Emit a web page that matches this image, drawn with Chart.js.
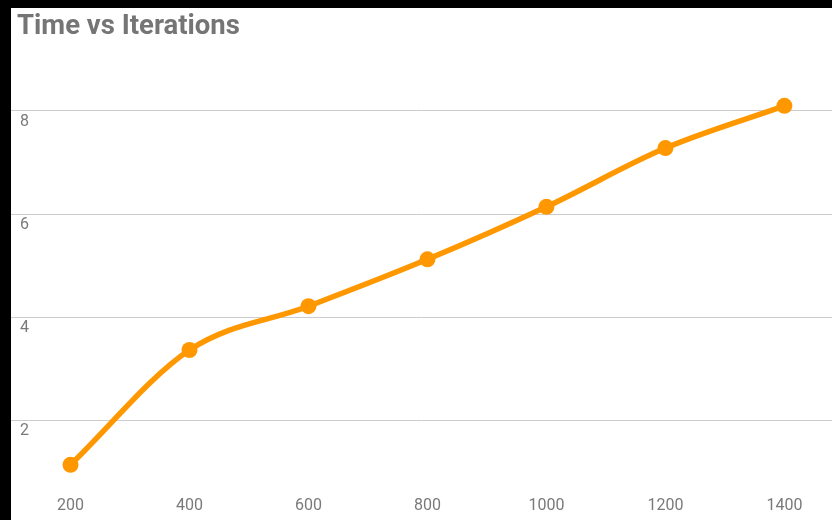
<!DOCTYPE html>
<html>
<head>
<meta charset="utf-8">
<script src="https://cdn.jsdelivr.net/npm/chart.js@4/dist/chart.umd.min.js"></script>
<style>
  html, body { margin: 0; padding: 0; background: #000; width: 832px; height: 520px; overflow: hidden; }
  #wrap { position: absolute; left: 11px; top: 8px; width: 821px; height: 512px; background: #fff; }
  #title {
    position: absolute; left: 17px; top: 11px; margin: 0;
    font-family: Roboto, sans-serif; font-weight: bold; font-size: 27.5px; line-height: 1;
    color: #757575; white-space: nowrap;
  }
</style>
</head>
<body>
<div id="wrap"><canvas id="chart"></canvas></div>
<div id="title">Time vs Iterations</div>
<script>
// Chart data
const iterations = [200, 400, 600, 800, 1000, 1200, 1400];
const timeValues = [1.13, 3.36, 4.21, 5.12, 6.14, 7.28, 8.10];
const yTicks = [2, 4, 6, 8];

const grey = '#7a7a7a';
const orange = '#FF9800';

const ctx = document.getElementById('chart').getContext('2d');
const chart = new Chart(ctx, {
    type: 'line',
    data: {
        datasets: [{
            label: 'Time',
            data: iterations.map((x, i) => ({ x: x, y: timeValues[i] })),
            borderColor: orange,
            backgroundColor: orange,
            borderWidth: 5.5,
            pointRadius: 8,
            pointHoverRadius: 8,
            pointBorderWidth: 0,
            tension: 0.4,
            cubicInterpolationMode: 'monotone',
            fill: false
        }]
    },
    options: {
        responsive: true,
        maintainAspectRatio: false,
        animation: false,
        layout: { autoPadding: false, padding: { left: 0, right: 0, top: 52, bottom: 5 } },
        plugins: {
            legend: { display: false },
            tooltip: { enabled: false },
            title: { display: false }
        },
        scales: {
            x: {
                type: 'linear',
                min: 100,
                max: 1480,
                afterBuildTicks: axis => { axis.ticks = iterations.map(v => ({ value: v })); },
                afterFit: axis => { axis.height = 28; },
                grid: { display: false, drawTicks: false },
                border: { display: false },
                ticks: {
                    color: grey,
                    padding: 9,
                    maxRotation: 0,
                    callback: v => String(v),
                    font: { family: 'Roboto', size: 16 }
                }
            },
            y: {
                min: 0.7,
                max: 8.99,
                afterBuildTicks: axis => { axis.ticks = yTicks.map(v => ({ value: v })); },
                afterFit: axis => { axis.width = 0; },
                grid: { color: '#cccccc', lineWidth: 1, drawTicks: false },
                border: { display: false },
                ticks: {
                    mirror: true,
                    padding: 9,
                    labelOffset: 11,
                    color: grey,
                    font: { family: 'Roboto', size: 16 }
                }
            }
        }
    }
});
</script>
</body>
</html>
